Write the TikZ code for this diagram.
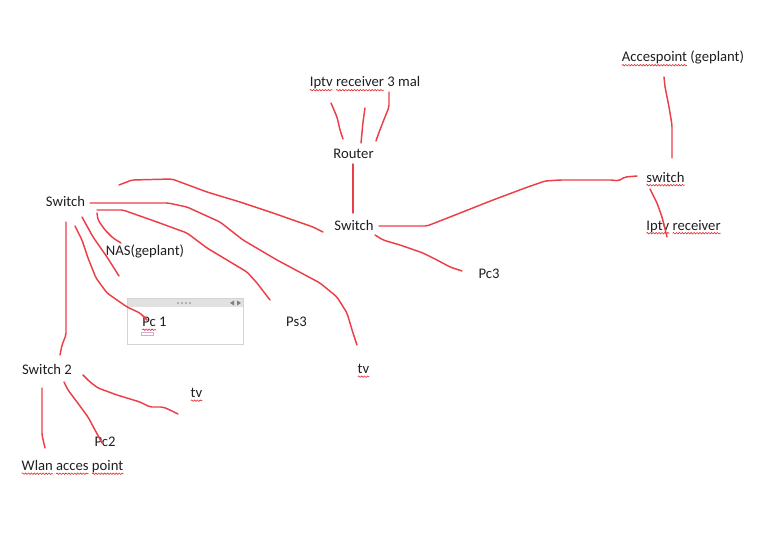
\documentclass[tikz,border=0pt]{standalone}
\usepackage{fontspec}
\setmainfont{Carlito}
\usetikzlibrary{decorations.pathmorphing}
\definecolor{penred}{RGB}{237,62,72}
\definecolor{spellred}{RGB}{226,40,44}
\definecolor{boxgray}{RGB}{212,212,212}
\definecolor{bargray}{RGB}{225,225,225}
\definecolor{markpink}{RGB}{214,170,214}
\tikzset{squiggle/.style={draw=spellred,line width=0.45pt,decorate,
  decoration={snake,amplitude=0.55pt,segment length=2.2pt}}}
\newsavebox\sqbox
\newcommand\squig[1]{\sbox\sqbox{#1}\rlap{\tikz[overlay,baseline=0pt]\draw[squiggle] (0pt,-2.4pt) -- (\wd\sqbox,-2.4pt);}\usebox\sqbox}

\begin{document}
\begin{tikzpicture}[x=0.75pt,y=-0.75pt,font=\fontsize{11pt}{13pt}\selectfont,
  lbl/.style={anchor=base,inner sep=0pt,text=black!88},
  cable/.style={draw=penred,line width=1.1pt,line join=round,line cap=round,rounded corners=1.5pt}]
  \useasboundingbox (0,0) rectangle (763,556);

  % note container round Pc 1
  \draw[boxgray,fill=white] (127,298) rectangle (243,344);
  \fill[bargray] (127.5,298.5) rectangle (242.5,307);
  \foreach \dx in {178,182,186,190}
    \fill[gray] (\dx,303) circle (0.9);
  \fill[gray] (230,303) -- (234,300.5) -- (234,305.5) -- cycle;
  \fill[gray] (241,303) -- (237,300.5) -- (237,305.5) -- cycle;
  \draw[markpink,line width=0.5pt] (141,332.5) rectangle (153,335.5);

  % devices
  \node[lbl] (ipm) at (365,87) {\squig{Iptv} \squig{receiver} 3 mal};
  \node[lbl] (router) at (353.5,158) {Router};
  \node[lbl] (swM) at (354,230) {Switch};
  \node[lbl] (acc) at (683,62) {\squig{Accespoint} (geplant)};
  \node[lbl] (swR) at (665.5,182) {\squig{switch}};
  \node[lbl] (iptvR) at (683.5,230) {\squig{Iptv} \squig{receiver}};
  \node[lbl] (pc3) at (489,278) {Pc3};
  \node[lbl] (swL) at (65.5,206.5) {Switch};
  \node[lbl] (nas) at (145,255) {NAS(geplant)};
  \node[lbl] (pc1) at (154.5,326.5) {\squig{Pc} 1};
  \node[lbl] (ps3) at (296.5,326.5) {Ps3};
  \node[lbl] (tvM) at (363.5,373.5) {\squig{tv}};
  \node[lbl] (sw2) at (47,374) {Switch 2};
  \node[lbl] (tvL) at (196.5,397.5) {\squig{tv}};
  \node[lbl] (pc2) at (105,446) {Pc2};
  \node[lbl] (wlan) at (72.5,470.5) {\squig{Wlan} \squig{acces} \squig{point}};

  % cables at the router
  \draw[cable] ([shift={(-34,16)}]ipm.base) -- (337,117) -- (340,130) -- ([shift={(-10.5,-19)}]router.base);
  \draw[cable] ([shift={(0,21)}]ipm.base) -- (363,122) -- ([shift={(7.5,-15)}]router.base);
  \draw[cable] ([shift={(24,5)}]ipm.base) -- (389,107) -- (383,122) -- (378,135) -- ([shift={(22.5,-17)}]router.base);
  \draw[cable] ([shift={(-0.5,6)}]router.base) -- ([shift={(-1,-17)}]swM.base);

  % cables at the right side
  \draw[cable] ([shift={(25,-4)}]swM.base) -- (427,226) -- (450,217) -- (493,200) -- (525,188)
    -- (545,181) -- (560,180) -- (613,180) -- (618,181) -- (625,177) -- ([shift={(-28.5,-6)}]swR.base);
  \draw[cable] ([shift={(-19,15)}]acc.base) -- (665,87) -- (669,107) -- (672,125) -- ([shift={(6.5,-24)}]swR.base);
  \draw[cable] ([shift={(-15.5,7)}]swR.base) -- (657,203) -- (662,217) -- ([shift={(-16.5,7)}]iptvR.base);
  \draw[cable] ([shift={(21,5)}]swM.base) -- (383,240) -- (400,245) -- (423,253) -- (437,260)
    -- (450,267) -- ([shift={(-27,-7)}]pc3.base);

  % cables at the left switch
  \draw[cable] ([shift={(53.5,-21.5)}]swL.base) -- (132,180) -- (172,179) -- (207,192) -- (240,202)
    -- (273,213) -- (313,227) -- ([shift={(-31,2)}]swM.base);
  \draw[cable] ([shift={(24.5,-3.5)}]swL.base) -- (168,203) -- (187,207) -- (220,222) -- (243,240)
    -- (277,260) -- (320,283) -- (337,297) -- (347,313) -- (353,333) -- ([shift={(-6.5,-28.5)}]tvM.base);
  \draw[cable] ([shift={(31.5,3.5)}]swL.base) -- (123,210) -- (157,222) -- (187,233) -- (207,248)
    -- (227,260) -- (247,272) -- (257,283) -- ([shift={(-26.5,-26.5)}]ps3.base);
  \draw[cable] ([shift={(31.5,6.5)}]swL.base) -- (98,220) -- (105,230) -- (113,238) -- ([shift={(-24,-12)}]nas.base);
  \draw[cable] ([shift={(16.5,10.5)}]swL.base) -- (93,237) -- (107,257) -- ([shift={(-26,21)}]nas.base);
  \draw[cable] ([shift={(9.5,19.5)}]swL.base) -- (82,240) -- (88,258) -- (96,278) -- (107,293)
    -- (127,307) -- (140,313) -- ([shift={(-7.5,-6.5)}]pc1.base);
  \draw[cable] ([shift={(0.5,15.5)}]swL.base) -- (66,335) -- (62,345) -- ([shift={(13,-19)}]sw2.base);

  % cables at switch 2
  \draw[cable] ([shift={(-5,14)}]sw2.base) -- (42,435) -- ([shift={(-27.5,-22.5)}]wlan.base);
  \draw[cable] ([shift={(17,8)}]sw2.base) -- (68,390) -- (77,402) -- (88,417) -- (95,430) -- ([shift={(-3,-3)}]pc2.base);
  \draw[cable] ([shift={(36,1)}]sw2.base) -- (90,382) -- (98,388) -- (117,395) -- (140,402)
    -- (150,407) -- (163,407) -- (170,410) -- ([shift={(-18.5,16.5)}]tvL.base);
\end{tikzpicture}
\end{document}
